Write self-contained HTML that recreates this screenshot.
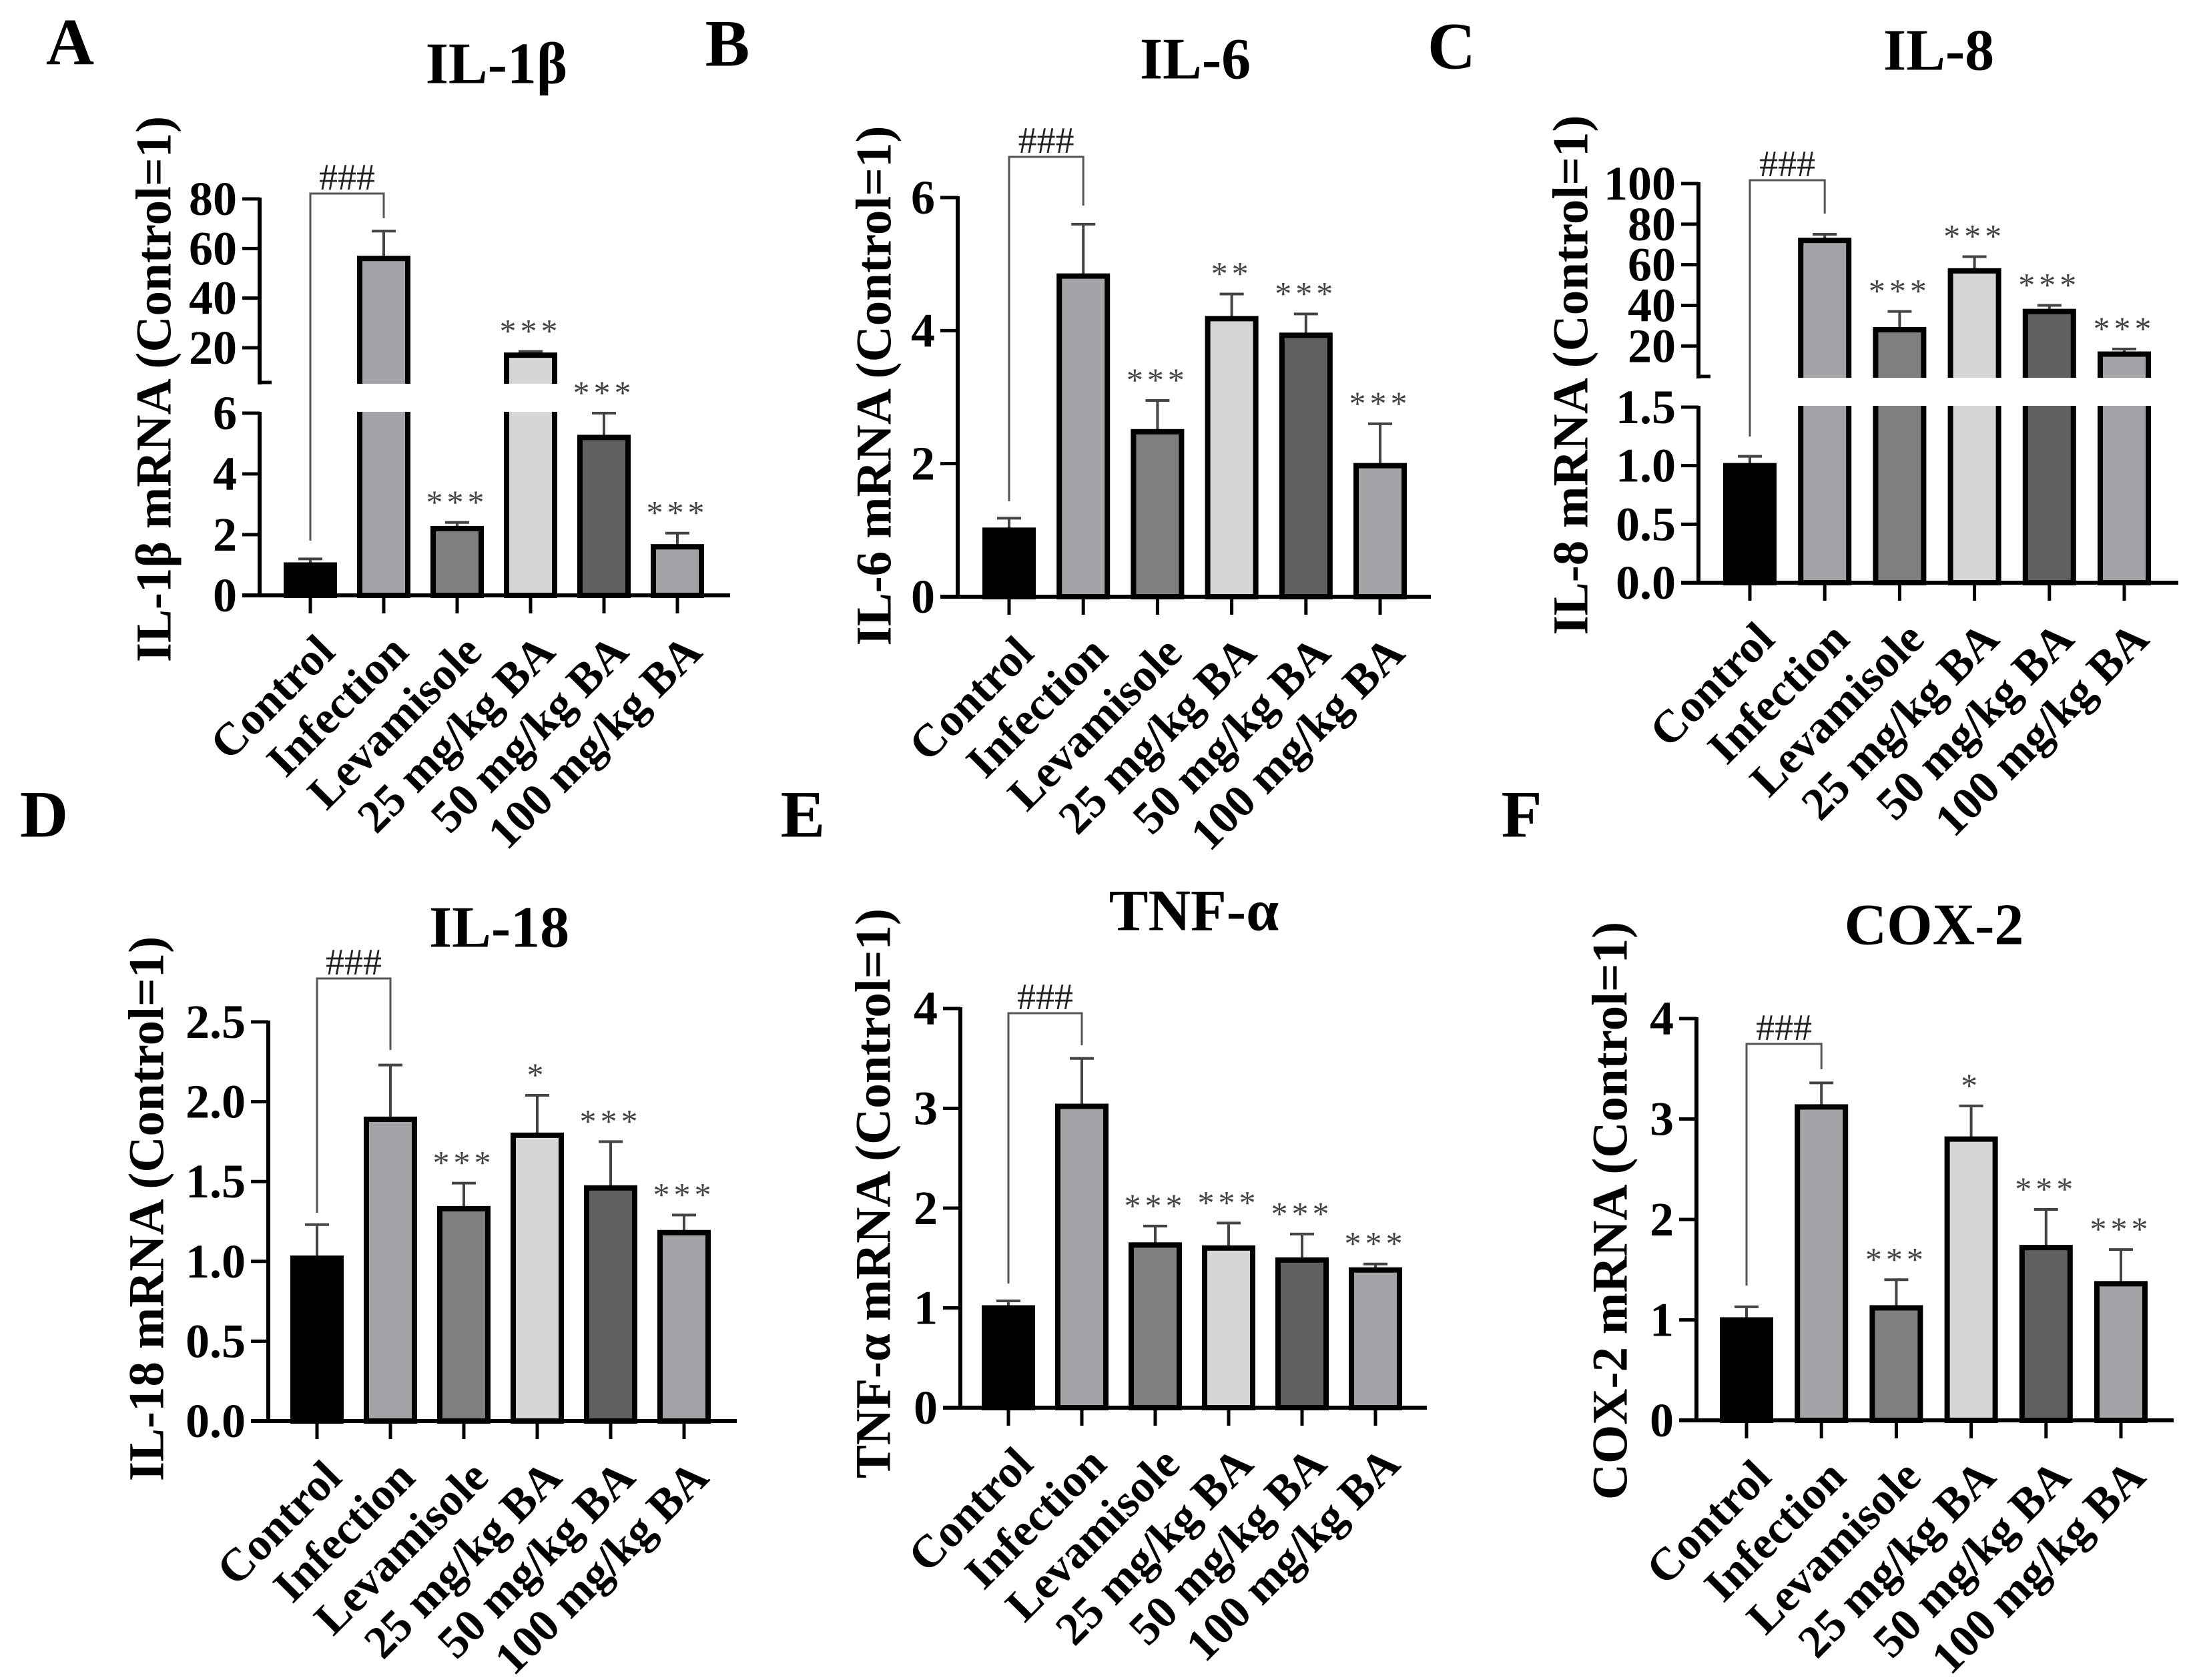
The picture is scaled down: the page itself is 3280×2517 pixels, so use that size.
<!DOCTYPE html>
<html><head><meta charset="utf-8">
<style>
html,body{margin:0;padding:0;background:#fff;}
svg{display:block;font-family:"Liberation Serif","DejaVu Serif",serif;}
</style></head>
<body>
<svg id="fig" width="3280" height="2517" viewBox="0 0 3280 2517" xmlns="http://www.w3.org/2000/svg"></svg>
<script>
const categories = ["Control","Infection","Levamisole","25 mg/kg BA","50 mg/kg BA","100 mg/kg BA"];
const barColors = ["#000000","#a3a3a8","#7f7f7f","#d6d6d6","#606060","#a3a3a8"];

const il1bMeans = [1, 56, 2.2, 17, 5.2, 1.6];
const il1bSD = [0.2, 11, 0.2, 1.5, 0.8, 0.45];
const il1bSig = ["", "", "***", "***", "***", "***"];
const il1bLowTicks = [0, 2, 4, 6];
const il1bUpTicks = [20, 40, 60, 80];

const il6Means = [1, 4.82, 2.48, 4.18, 3.93, 1.97];
const il6SD = [0.18, 0.78, 0.47, 0.37, 0.32, 0.63];
const il6Sig = ["", "", "***", "**", "***", "***"];
const il6Ticks = [0, 2, 4, 6];

const il8Means = [1, 72, 28, 57, 37, 16];
const il8SD = [0.08, 3, 9, 7, 3, 2.5];
const il8Sig = ["", "", "***", "***", "***", "***"];
const il8LowTicks = [0, 0.5, 1.0, 1.5];
const il8UpTicks = [20, 40, 60, 80, 100];

const il18Means = [1.02, 1.89, 1.33, 1.79, 1.46, 1.18];
const il18SD = [0.21, 0.34, 0.16, 0.25, 0.29, 0.11];
const il18Sig = ["", "", "***", "*", "***", "***"];
const il18Ticks = [0, 0.5, 1.0, 1.5, 2.0, 2.5];

const tnfMeans = [1, 3.02, 1.63, 1.6, 1.48, 1.38];
const tnfSD = [0.07, 0.48, 0.19, 0.25, 0.26, 0.06];
const tnfSig = ["", "", "***", "***", "***", "***"];
const tnfTicks = [0, 1, 2, 3, 4];

const coxMeans = [1, 3.12, 1.12, 2.8, 1.72, 1.36];
const coxSD = [0.13, 0.24, 0.28, 0.33, 0.38, 0.34];
const coxSig = ["", "", "***", "*", "***", "***"];
const coxTicks = [0, 1, 2, 3, 4];

const NS = "http://www.w3.org/2000/svg";
const svg = document.getElementById("fig");
function mk(tag, attrs, parent, text) {
  const e = document.createElementNS(NS, tag);
  for (const k in attrs) e.setAttribute(k, attrs[k]);
  if (text !== undefined) e.textContent = text;
  (parent || svg).appendChild(e);
  return e;
}

const panels = [
  {key:"il1b", letter:"A", lx:105, ly:63, title:"IL-1β", tx:744, ty:96, ylab:"IL-1β mRNA (Control=1)", ylx:231, yly:583,
   ax:389, axEnd:1094, y0:892, c0:465, step:110, means:il1bMeans, sd:il1bSD, sig:il1bSig,
   low:{max:6, top:619, ticks:il1bLowTicks, dec:0}, up:{min:6, max:80, bot:573, top:298, ticks:il1bUpTicks, dec:0},
   br:{top:290, l:810, r:327}},
  {key:"il6", letter:"B", lx:1090, ly:65, title:"IL-6", tx:1791, ty:89, ylab:"IL-6 mRNA (Control=1)", ylx:1310, yly:578,
   ax:1435, axEnd:2144, y0:894, c0:1512, step:111.2, means:il6Means, sd:il6SD, sig:il6Sig,
   low:{max:6, top:296, ticks:il6Ticks, dec:0}, br:{top:235, l:751, r:308}},
  {key:"il8", letter:"C", lx:2175, ly:69, title:"IL-8", tx:2905, ty:76, ylab:"IL-8 mRNA (Control=1)", ylx:2354, yly:562,
   ax:2545, axEnd:3264, y0:873, c0:2622, step:112.2, means:il8Means, sd:il8SD, sig:il8Sig,
   low:{max:1.5, top:610, ticks:il8LowTicks, dec:1}, up:{min:5, max:100, bot:564, top:275, ticks:il8UpTicks, dec:0},
   br:{top:270, l:654, r:320}},
  {key:"il18", letter:"D", lx:66, ly:1220, title:"IL-18", tx:748, ty:1390, ylab:"IL-18 mRNA (Control=1)", ylx:220, yly:1811,
   ax:402, axEnd:1104, y0:2129, c0:475, step:110, means:il18Means, sd:il18SD, sig:il18Sig,
   low:{max:2.5, top:1531, ticks:il18Ticks, dec:1}, br:{top:1466, l:1817, r:1573}},
  {key:"tnf", letter:"E", lx:1203, ly:1220, title:"TNF-α", tx:1789, ty:1365, ylab:"TNF-α mRNA (Control=1)", ylx:1309, yly:1788,
   ax:1439, axEnd:2138, y0:2109, c0:1511, step:110, means:tnfMeans, sd:tnfSD, sig:tnfSig,
   low:{max:4, top:1511, ticks:tnfTicks, dec:0}, br:{top:1518, l:1923, r:1566}},
  {key:"cox2", letter:"F", lx:2280, ly:1220, title:"COX-2", tx:2898, ty:1386, ylab:"COX-2 mRNA (Control=1)", ylx:2413, yly:1814,
   ax:2542, axEnd:3257, y0:2128, c0:2617, step:112.2, means:coxMeans, sd:coxSD, sig:coxSig,
   low:{max:4, top:1526, ticks:coxTicks, dec:0}, br:{top:1564, l:1926, r:1602}}
];

panels.forEach(p => {
  const g = mk("g", {});
  
  
  const yScale = v => {
    if (!p.up || v <= p.low.max) return p.y0 - (v / p.low.max) * (p.y0 - p.low.top);
    return p.up.bot - (v - p.up.min) / (p.up.max - p.up.min) * (p.up.bot - p.up.top);
  };
  const xScale = i => p.c0 + i * p.step;
  const bw = 72;

  const L = mk("text", {x:p.lx, y:p.ly, "font-size":100, "font-weight":"bold", "text-anchor":"middle", "dominant-baseline":"central"}, g, p.letter);
  
  
  const T = mk("text", {x:p.tx, y:p.ty, "font-size":88, "font-weight":"bold", "text-anchor":"middle", "dominant-baseline":"central"}, g, p.title);
  
  
  const Y = mk("text", {x:0, y:0, "font-size":75, "font-weight":"bold", "text-anchor":"middle", "dominant-baseline":"central", transform:`translate(${p.ylx},${p.yly}) rotate(-90)`}, g, p.ylab);
  
  

  p.means.forEach((m, i) => {
    const cx = xScale(i), yt = yScale(m), ye = yScale(m + p.sd[i]);
    const eb = mk("line", {x1:cx, x2:cx, y1:yt, y2:ye, stroke:"#444", "stroke-width":4}, g);
    
    
    const ec = mk("line", {x1:cx-18, x2:cx+18, y1:ye, y2:ye, stroke:"#444", "stroke-width":4}, g);
    
    
    const r = mk("rect", {x:cx-bw/2, y:yt, width:bw, height:p.y0-yt, fill:barColors[i], stroke:"#000", "stroke-width":8}, g);
    
    
  });
  if (p.up) {
    const gap = mk("rect", {x:p.ax+3, y:p.up.bot+2, width:p.axEnd-p.ax, height:p.low.top-p.up.bot-4, fill:"#fff"}, g);
    
    
  }
  p.means.forEach((m, i) => {
    if (!p.sig[i]) return;
    const cx = xScale(i), ye = yScale(m + p.sd[i]);
    const s = mk("text", {x:cx, y:ye-14, "font-size":50, fill:"#444", "letter-spacing":6, "text-anchor":"middle"}, g, p.sig[i]);
    
    
  });
  const segs = p.up ? [[p.y0, p.low.top],[p.up.bot, p.up.top]] : [[p.y0, p.low.top]];
  segs.forEach(s => {
    const a = mk("line", {x1:p.ax, x2:p.ax, y1:s[0]+3, y2:s[1]-2, stroke:"#000", "stroke-width":6}, g);
    
    
  });
  if (p.up) {
    const bt = mk("line", {x1:p.ax-2, x2:p.ax+18, y1:p.up.bot, y2:p.up.bot, stroke:"#000", "stroke-width":5}, g);
    
    
  }
  const drawTicks = (ticks, dec) => ticks.forEach(t => {
    const y = yScale(t);
    const tk = mk("line", {x1:p.ax-26, x2:p.ax, y1:y, y2:y, stroke:"#000", "stroke-width":5}, g);
    
    
    const tl = mk("text", {x:p.ax-34, y:y, "font-size":72, "font-weight":"bold", "text-anchor":"end", "dominant-baseline":"central"}, g, t.toFixed(dec));
    
    
  });
  drawTicks(p.low.ticks, p.low.dec);
  if (p.up) drawTicks(p.up.ticks, p.up.dec);
  const xa = mk("line", {x1:p.ax-26, x2:p.axEnd, y1:p.y0, y2:p.y0, stroke:"#000", "stroke-width":6}, g);
  
  
  categories.forEach((c, i) => {
    const cx = xScale(i);
    const tk = mk("line", {x1:cx, x2:cx, y1:p.y0, y2:p.y0+27, stroke:"#000", "stroke-width":5}, g);
    
    
    const tl = mk("text", {x:0, y:0, "font-size":69, "font-weight":"bold", "text-anchor":"end", transform:`translate(${cx+40},${p.y0+88}) rotate(-45)`}, g, c);
    
    
  });
  const cL = xScale(0), cR = xScale(1);
  const br = mk("polyline", {points:`${cL},${p.br.l} ${cL},${p.br.top} ${cR},${p.br.top} ${cR},${p.br.r}`, fill:"none", stroke:"#555", "stroke-width":3}, g);
  
  
  const hs = mk("text", {x:(cL+cR)/2, y:p.br.top-6, "font-size":56, fill:"#222", "text-anchor":"middle"}, g, "###");
  
  
});
</script>
</body></html>
